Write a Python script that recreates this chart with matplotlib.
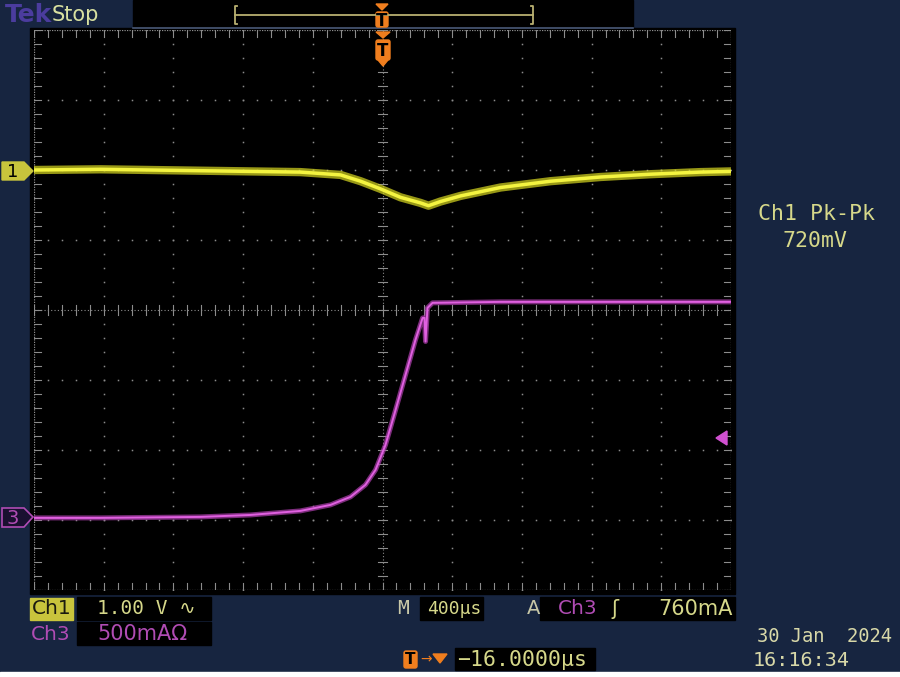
import numpy as np
import matplotlib
matplotlib.use("Agg")
from matplotlib import pyplot as plt
from matplotlib.patches import Rectangle, Polygon, FancyBboxPatch

# scope settings
time_per_div = 400.0     # us
ch1_per_div = 1.00       # V
ch3_per_div = 500.0      # mA
ch1_offset = 2.0         # div above centre
ch3_offset = -2.97       # div
trig_level = 760.0       # mA

# Ch1 trace (time us, volts)
ch1_t = [-2000, -1618, -1045, -471, -241, -126, -11, 103, 218, 264,
         333, 448, 677, 964, 1251, 1538, 1825, 2000]
ch1_v = [0.0, 0.01, -0.01, -0.03, -0.07, -0.16, -0.27, -0.39, -0.47, -0.51,
         -0.45, -0.37, -0.25, -0.16, -0.10, -0.06, -0.03, -0.02]

# Ch3 trace (time us, mA)
ch3_t = [-2000, -1618, -1045, -758, -471, -298, -184, -98, -40, 17,
         75, 132, 189, 230, 241, 247, 258, 287, 677, 2000]
ch3_i = [0, 0, 7, 21, 50, 93, 150, 236, 343, 521,
         771, 1021, 1271, 1428, 1430, 1260, 1500, 1536, 1543, 1543]

NAVY = "#172540"
GRID = "#8c8c8c"
YEL = "#ecec30"
MAG = "#d050d0"
TXT = "#d6d88a"
PUR = "#b04cb4"
ORG = "#f07e1e"

fig = plt.figure(figsize=(9, 6.77), dpi=100)
fig.patch.set_facecolor(NAVY)

# background layer in pixel coords
bg = fig.add_axes([0, 0, 1, 1], zorder=0)
bg.set_xlim(0, 900)
bg.set_ylim(677, 0)
bg.axis("off")
bg.add_patch(Rectangle((0, 672), 900, 5, color="white"))
bg.add_patch(Rectangle((30, 28), 705, 566, color="black"))
bg.add_patch(Rectangle((133, 0), 500, 27, color="black"))
bg.plot([133, 633], [27.5, 27.5], color="#4a5a78", lw=1.2)
for x0, y0, w, h in [(77, 597, 134, 23), (77, 622, 134, 23), (420, 597, 63, 23),
                     (540, 597, 195, 23), (455, 648, 140, 22)]:
    bg.add_patch(Rectangle((x0, y0), w, h, color="black"))
bg.add_patch(Rectangle((30, 598), 43, 22, color="#c8c43c"))

# graticule + traces
L, R, T, B = 34, 731, 30, 590
gr = fig.add_axes([L / 900, 1 - B / 677, (R - L) / 900, (B - T) / 677], zorder=1)
gr.set_xlim(-5, 5)
gr.set_ylim(-4, 4)
gr.patch.set_alpha(0)
for s in gr.spines.values():
    s.set_visible(False)
gr.set_xticks([])
gr.set_yticks([])

minor_x = np.arange(-5, 5.001, 0.2)
minor_y = np.arange(-4, 4.001, 0.2)
for gx in range(-4, 5):
    if gx != 0:
        gr.plot(np.full_like(minor_y, gx), minor_y, ls="none", marker="s",
                ms=1.1, color=GRID, mew=0)
for gy in range(-3, 4):
    if gy != 0:
        gr.plot(minor_x, np.full_like(minor_x, gy), ls="none", marker="s",
                ms=1.1, color=GRID, mew=0)
# centre cross and frame with ticks
gr.plot([0, 0], [-4, 4], color=GRID, lw=0.8, ls=(0, (1, 2)))
gr.plot([-5, 5], [0, 0], color=GRID, lw=0.8, ls=(0, (1, 2)))
for xx in minor_x:
    gr.plot([xx, xx], [-0.07, 0.07], color=GRID, lw=0.8)
    gr.plot([xx, xx], [4, 3.9], color=GRID, lw=0.8)
    gr.plot([xx, xx], [-4, -3.9], color=GRID, lw=0.8)
for yy in minor_y:
    gr.plot([-0.07, 0.07], [yy, yy], color=GRID, lw=0.8)
    gr.plot([-5, -4.9], [yy, yy], color=GRID, lw=0.8)
    gr.plot([5, 4.9], [yy, yy], color=GRID, lw=0.8)
for xs, ys in [([-5, 5], [4, 4]), ([-5, 5], [-4, -4]), ([-5, -5], [-4, 4]), ([5, 5], [-4, 4])]:
    gr.plot(xs, ys, color=GRID, lw=0.9, ls=(0, (1, 1)))

x1 = np.array(ch1_t) / time_per_div
y1 = np.array(ch1_v) / ch1_per_div + ch1_offset
x3 = np.array(ch3_t) / time_per_div
y3 = np.array(ch3_i) / ch3_per_div + ch3_offset
gr.plot(x1, y1, color="#d8d820", lw=6.0, alpha=0.7, solid_capstyle="butt", solid_joinstyle="round")
gr.plot(x1, y1, color="#f4f440", lw=2.5, solid_capstyle="butt")
gr.plot(x3, y3, color="#b040b0", lw=3.6, alpha=0.7, solid_joinstyle="round", solid_capstyle="butt")
gr.plot(x3, y3, color="#e060e0", lw=1.4, solid_capstyle="butt")

# overlay layer
ov = fig.add_axes([0, 0, 1, 1], zorder=2)
ov.set_xlim(0, 900)
ov.set_ylim(677, 0)
ov.patch.set_alpha(0)
ov.axis("off")

ov.text(5, 15, "Tek", color="#4b3c9e", fontsize=18, fontweight="bold",
        va="center", ha="left", family="DejaVu Sans")
ov.text(52, 15, "Stop", color="#d8e0a0", fontsize=15, va="center", ha="left")

# record bar
ov.plot([235, 533], [15, 15], color="#b8b070", lw=1.3)
ov.plot([237, 235, 235, 237], [6, 6, 24, 24], color="#b8b070", lw=1.3)
ov.plot([531, 533, 533, 531], [6, 6, 24, 24], color="#b8b070", lw=1.3)


def t_marker(cx, top, h, w):
    ov.add_patch(Polygon([(cx - w / 2, top), (cx + w / 2, top), (cx, top + 6)], color=ORG))
    ov.add_patch(FancyBboxPatch((cx - w / 2, top + 8), w, h, boxstyle="round,pad=0,rounding_size=2",
                                color=ORG))
    ov.text(cx, top + 8 + h / 2 + 1, "T", color="black", fontsize=12, fontweight="bold",
            ha="center", va="center")


t_marker(382, 4, 15, 12)
t_marker(383, 32, 20, 14)
ov.add_patch(Polygon([(378, 60), (388, 60), (383, 66)], color=ORG))

# channel markers
ov.add_patch(Polygon([(2, 162), (24, 162), (33, 171), (24, 180), (2, 180)],
                     facecolor="#c8c43c", edgecolor="#c8c43c"))
ov.text(13, 172, "1", color="black", fontsize=13, ha="center", va="center")
ov.add_patch(Polygon([(2, 508), (24, 508), (33, 517), (24, 527), (2, 527)],
                     facecolor="#1a1030", edgecolor=PUR, lw=1.2))
ov.text(13, 518, "3", color=PUR, fontsize=14, ha="center", va="center")

# trigger level arrow
ov.add_patch(Polygon([(716, 438), (727, 431), (727, 445)], color=MAG))

# measurement
mono = ["DejaVu Sans Mono", "DejaVu Sans"]
ov.text(817, 214, "Ch1 Pk-Pk", color=TXT, fontsize=15.5, ha="center", va="center", family=mono)
ov.text(815, 241, "720mV", color=TXT, fontsize=15.5, ha="center", va="center", family=mono)

sans = dict(va="center", family="DejaVu Sans")
mon = dict(va="center", family=mono)
ov.text(32, 609, "Ch1", color="#1a1a10", ha="left", fontsize=14.5, **sans)
ov.text(97, 609, "1.00 V \u223f", color=TXT, ha="left", fontsize=14, **mon)
ov.text(31, 634, "Ch3", color=PUR, ha="left", fontsize=14.5, **sans)
ov.text(97, 634, "500mA\u03a9", color=PUR, ha="left", fontsize=15, **sans)
ov.text(397, 608, "M", color="#c8c8a8", ha="left", fontsize=14, **mon)
ov.text(427, 609, "400\u00b5s", color=TXT, ha="left", fontsize=13, **mon)
ov.text(527, 608, "A", color="#c8c8a8", ha="left", fontsize=14, **sans)
ov.text(558, 609, "Ch3", color=PUR, ha="left", fontsize=14.5, **sans)
ov.text(611, 609, "\u0283", color=TXT, ha="left", fontsize=15, **sans)
ov.text(733, 609, "760mA", color=TXT, ha="right", fontsize=15, **sans)
ov.text(457, 660, "\u221216.0000\u00b5s", color=TXT, ha="left", fontsize=15.5, **mon)
ov.text(757, 636, "30 Jan  2024", color="#d8d8a8", ha="left", fontsize=13.5, **mon)
ov.text(753, 660, "16:16:34", color="#d8d8a8", ha="left", fontsize=14.5, **mon)

ov.add_patch(FancyBboxPatch((404, 651), 13, 17, boxstyle="round,pad=0,rounding_size=2", color=ORG))
ov.text(410.5, 660, "T", color="black", fontsize=11, fontweight="bold", ha="center", va="center")
ov.text(426, 659, "\u2192", color=ORG, fontsize=10, ha="center", va="center")
ov.add_patch(Polygon([(433, 654), (447, 654), (440, 663)], color=ORG))

fig.savefig("out.png", dpi=100, facecolor=fig.get_facecolor())
